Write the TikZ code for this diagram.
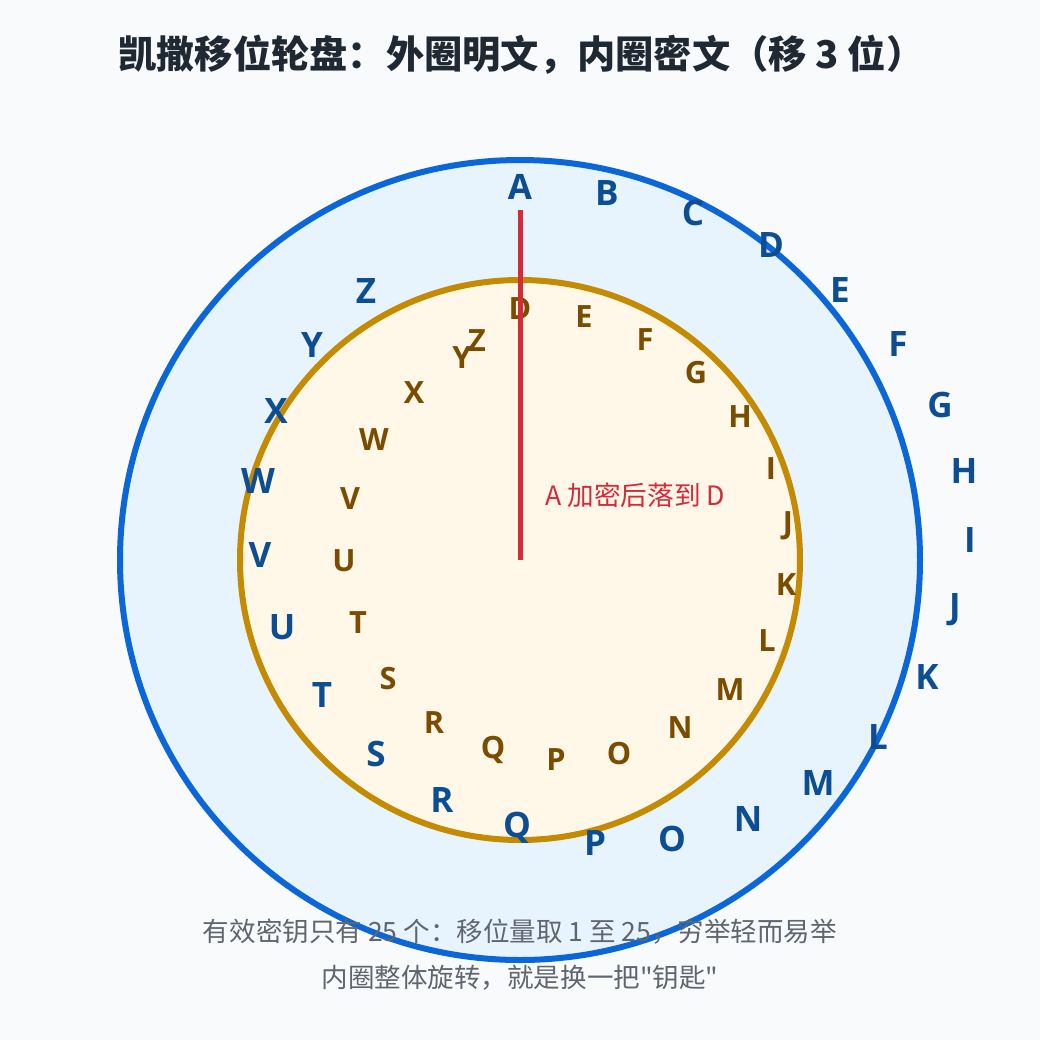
\documentclass[tikz,border=0pt]{standalone}
\usepackage{fontspec}
\setmainfont{Open Sans}[BoldFont={* Bold}]
\newfontfamily\cjk{Noto Sans CJK SC}
\definecolor{bgc}{HTML}{F8FAFC}
\definecolor{outerfill}{HTML}{E7F3FD}
\definecolor{outerline}{HTML}{0B67D8}
\definecolor{innerfill}{HTML}{FFF8E8}
\definecolor{innerline}{HTML}{C48A00}
\definecolor{redc}{HTML}{D42A3A}
\definecolor{outerletter}{HTML}{0D4E92}
\definecolor{innerletter}{HTML}{7A4C00}
\definecolor{titlec}{HTML}{1F2933}
\definecolor{footc}{HTML}{5F6670}
\begin{document}
\begin{tikzpicture}[x=0.75pt,y=-0.75pt,
  outerring/.style={fill=outerfill, draw=outerline, line width=4.5pt},
  innerring/.style={fill=innerfill, draw=innerline, line width=4.5pt},
  outerl/.style={font=\fontsize{26.25}{27}\selectfont\bfseries, text=outerletter, inner sep=0pt},
  innerl/.style={font=\fontsize{23}{24}\selectfont\bfseries, text=innerletter, inner sep=0pt},
  pointer/.style={draw=redc, line width=3.75pt},
  redlabel/.style={font=\cjk\fontsize{20}{21}\selectfont, text=redc, inner sep=0pt, anchor=west},
  titlestyle/.style={font=\cjk\bfseries\fontsize{28.7}{30}\selectfont, text=titlec, inner sep=0pt, anchor=west},
  footstyle/.style={font=\cjk\fontsize{19.9}{20}\selectfont, text=footc, inner sep=0pt}]
\fill[bgc] (0,0) rectangle (1040,1040);
\useasboundingbox (0,0) rectangle (1040,1040);
\coordinate (ctr) at (520,560);
\coordinate (ptr) at (520,210);
\draw[outerring] (ctr) circle[radius=400];
\draw[innerring] (ctr) circle[radius=280];
\foreach \l/\x/\y in {D/520/309, E/584/317, F/645/340, G/696/373, H/740/417,
  I/771/469, J/788/526, K/786/585, L/767/641, M/730/690, N/680/728,
  O/619/754, P/556/760, Q/493/750, R/434/723, S/388/679, T/358/623,
  U/344/561, V/350/499, W/374/440, X/414/393, Y/462/358, Z/477/341}
  \node[innerl] (i\l) at (\x,\y) {\l};
\draw[pointer] (ptr) -- (ctr);
\foreach \l/\x/\y in {A/520/187, B/607/193, C/693/213, D/771/245, E/840/290,
  F/898/344, G/940/405, H/964/471, I/970/540, J/955/610, K/927/677,
  L/878/737, M/818/783, N/748/819, O/672/839, P/595/843, Q/517/828,
  R/442/800, S/376/754, T/322/695, U/282/627, V/260/555, W/258/481,
  X/276/411, Y/312/345, Z/366/291}
  \node[outerl] (o\l) at (\x,\y) {\l};
\node[redlabel] (note) at (545,495) {A 加密后落到 D};
\node[titlestyle] (title) at (118,55) {凯撒移位轮盘：外圈明文，内圈密文（移 3 位）};
\node[footstyle] (foot1) at (520,932) {有效密钥只有 25 个：移位量取 1 至 25，穷举轻而易举};
\node[footstyle] (foot2) at (520,978) {内圈整体旋转，就是换一把"钥匙"};
\end{tikzpicture}
\end{document}
